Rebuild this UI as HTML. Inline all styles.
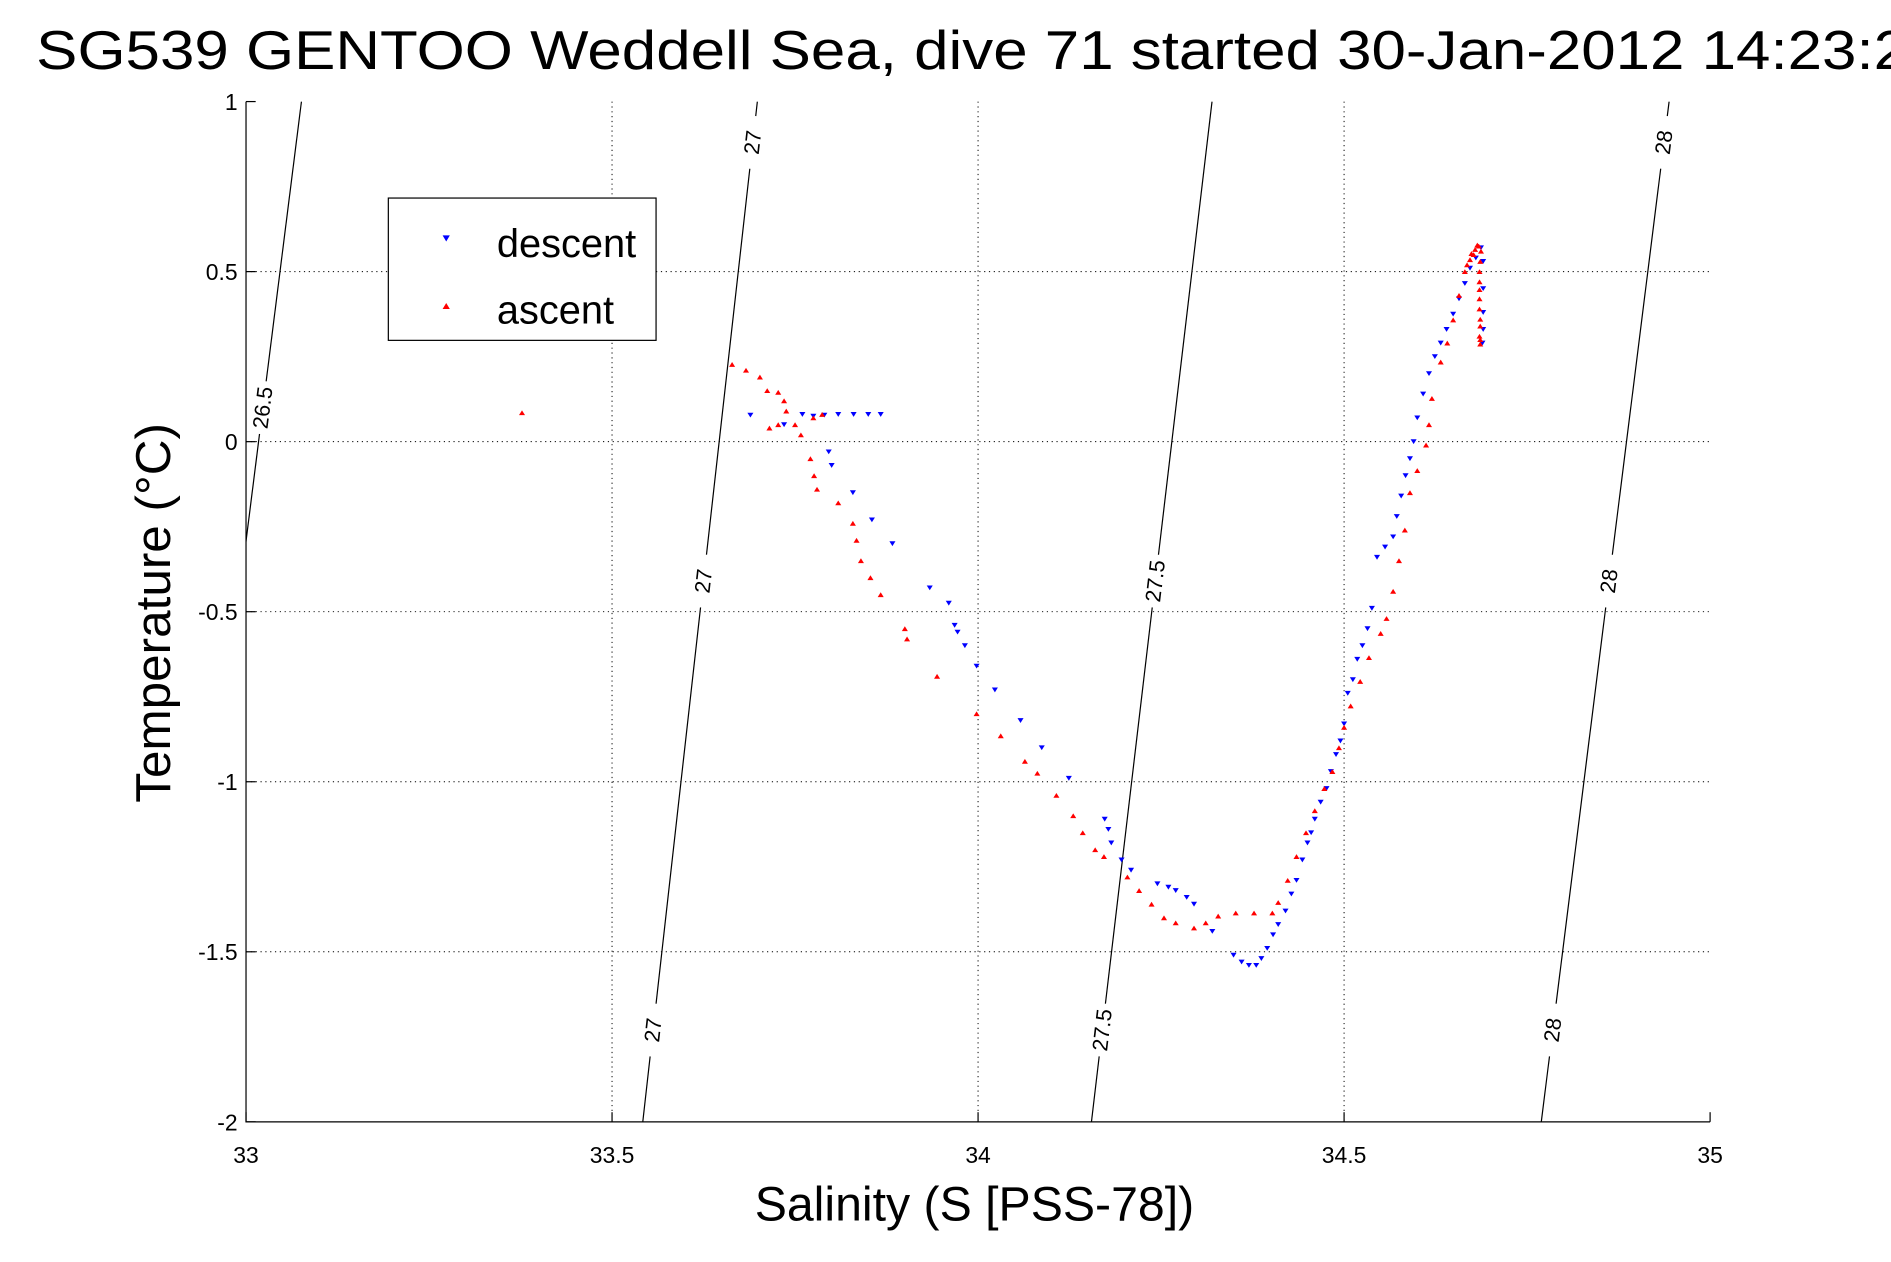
<!DOCTYPE html>
<html><head><meta charset="utf-8"><style>
html,body{margin:0;padding:0;background:#fff;overflow:hidden}
svg{display:block;font-family:"Liberation Sans",sans-serif}
</style></head><body>
<svg id="chart" width="1891" height="1262" viewBox="0 0 1568 1046" xmlns="http://www.w3.org/2000/svg">
<rect width="1568" height="1046" fill="#fff"/>
<text transform="translate(30,57) scale(1.14,1)" x="0" y="0" font-size="45" fill="#000">SG539 GENTOO Weddell Sea, dive 71 started 30-Jan-2012 14:23:24</text>
<g id="grid"></g>
<g id="iso"></g>
<g id="marks"></g>
<g id="axes"></g>
<text x="808" y="1012" font-size="40" text-anchor="middle">Salinity (S [PSS-78])</text>
<text transform="translate(141,508) rotate(-90)" font-size="41" text-anchor="middle">Temperature (°C)</text>
<g>
<rect x="322" y="164" width="222" height="118" fill="#fff" stroke="#000" stroke-width="1"/>
<polygon points="367,195 373,195 370,200" fill="#00f"/>
<text x="412" y="213" font-size="33">descent</text>
<polygon points="367,256 373,256 370,251" fill="#f00"/>
<text x="412" y="268" font-size="33">ascent</text>
</g>
</svg>
<script>
const xTicks=[33,33.5,34,34.5,35];
const yTicks=[1,0.5,0,-0.5,-1,-1.5,-2];
const xTickLabels=["33","33.5","34","34.5","35"];
const yTickLabels=["1","0.5","0","-0.5","-1","-1.5","-2"];
const descS=[33.689,33.735,33.760,33.775,33.790,33.809,33.830,33.850,33.867,33.796,33.80,33.829,33.855,33.883,33.934,33.960,33.968,33.972,33.982,33.998,34.023,34.058,34.087,34.124,34.173,34.178,34.182,34.196,34.209,34.245,34.26,34.27,34.285,34.295,34.32,34.349,34.36,34.37,34.38,34.387,34.395,34.403,34.41,34.42,34.428,34.435,34.443,34.45,34.455,34.46,34.468,34.476,34.482,34.489,34.495,34.50,34.505,34.512,34.518,34.525,34.532,34.538,34.545,34.556,34.567,34.572,34.578,34.584,34.59,34.595,34.60,34.608,34.616,34.624,34.632,34.64,34.649,34.657,34.665,34.672,34.68,34.687,34.69,34.69,34.69,34.69,34.689];
const descT=[0.078,0.05,0.08,0.075,0.078,0.08,0.08,0.08,0.08,-0.03,-0.07,-0.15,-0.23,-0.30,-0.43,-0.475,-0.54,-0.56,-0.6,-0.66,-0.73,-0.82,-0.90,-0.99,-1.11,-1.14,-1.18,-1.23,-1.26,-1.30,-1.31,-1.32,-1.34,-1.36,-1.44,-1.51,-1.53,-1.54,-1.54,-1.52,-1.49,-1.45,-1.42,-1.38,-1.33,-1.29,-1.23,-1.18,-1.15,-1.11,-1.06,-1.02,-0.97,-0.92,-0.88,-0.83,-0.74,-0.7,-0.64,-0.60,-0.55,-0.49,-0.34,-0.31,-0.28,-0.22,-0.16,-0.1,-0.05,0.0,0.07,0.14,0.2,0.25,0.29,0.33,0.375,0.42,0.465,0.51,0.54,0.57,0.53,0.45,0.38,0.33,0.29];
const ascS=[33.377,33.664,33.683,33.702,33.712,33.727,33.735,33.738,33.715,33.727,33.75,33.758,33.771,33.776,33.78,33.775,33.787,33.809,33.829,33.834,33.84,33.853,33.867,33.9,33.903,33.944,33.998,34.031,34.064,34.081,34.107,34.13,34.143,34.16,34.172,34.204,34.22,34.237,34.254,34.27,34.295,34.311,34.328,34.352,34.377,34.402,34.41,34.423,34.435,34.448,34.46,34.473,34.484,34.493,34.50,34.509,34.522,34.534,34.55,34.558,34.567,34.575,34.583,34.59,34.60,34.612,34.616,34.62,34.632,34.641,34.649,34.657,34.665,34.674,34.682,34.687,34.685,34.685,34.685,34.686,34.686,34.668,34.672,34.677,34.679,34.684,34.686,34.685,34.685,34.686,34.685,34.686];
const ascT=[0.085,0.227,0.21,0.19,0.15,0.145,0.12,0.09,0.04,0.05,0.05,0.02,-0.05,-0.1,-0.14,0.07,0.08,-0.18,-0.24,-0.29,-0.35,-0.40,-0.45,-0.55,-0.58,-0.69,-0.80,-0.865,-0.94,-0.975,-1.04,-1.10,-1.15,-1.2,-1.22,-1.28,-1.32,-1.36,-1.40,-1.415,-1.43,-1.415,-1.395,-1.386,-1.386,-1.386,-1.355,-1.29,-1.22,-1.15,-1.085,-1.02,-0.97,-0.90,-0.84,-0.777,-0.705,-0.635,-0.564,-0.52,-0.44,-0.35,-0.26,-0.15,-0.085,-0.01,0.05,0.127,0.234,0.29,0.358,0.43,0.5,0.553,0.578,0.56,0.50,0.447,0.39,0.34,0.287,0.52,0.535,0.55,0.565,0.575,0.53,0.47,0.42,0.36,0.31,0.30];
const isoLevels=["26.5","27","27.5","28"];
const isoTopS=[33.0757,33.6985,34.3196,34.9440];
const isoBotS=[32.9,33.5420,34.1549,34.7694];
const NS="http://www.w3.org/2000/svg";
const L=204,R=1418,T=84,B=930;
const xs=s=>L+(s-33)/2*(R-L);
const ys=t=>T+(1-t)/3*(B-T);
function mk(tag,attrs,parent){const e=document.createElementNS(NS,tag);for(const k in attrs)e.setAttribute(k,attrs[k]);parent.appendChild(e);return e;}
const grid=document.getElementById('grid'),axes=document.getElementById('axes'),iso=document.getElementById('iso'),marks=document.getElementById('marks');
xTicks.forEach((v,i)=>{
 const x=xs(v);
 if(i>0&&i<xTicks.length-1){const g=mk('line',{x1:x,x2:x,y1:T,y2:B,stroke:'#000','stroke-width':0.8,'stroke-dasharray':'1,3'},grid);
 
 }
 const t=mk('text',{x:x,y:B+34,'font-size':19,'text-anchor':'middle'},axes);t.textContent=xTickLabels[i];
 
 
 mk('line',{x1:x,x2:x,y1:B,y2:B-8,stroke:'#000'},axes);
});
yTicks.forEach((v,i)=>{
 const y=ys(v);
 if(i>0&&i<yTicks.length-1){const g=mk('line',{x1:L,x2:R,y1:y,y2:y,stroke:'#000','stroke-width':0.8,'stroke-dasharray':'1,3'},grid);
 
 }
 const t=mk('text',{x:L-7,y:y+7,'font-size':19,'text-anchor':'end'},axes);t.textContent=yTickLabels[i];
 
 
 mk('line',{x1:L,x2:L+8,y1:y,y2:y,stroke:'#000'},axes);
});
const ax=mk('path',{d:`M${L},${T}V${B}H${R}`,fill:'none',stroke:'#000','stroke-width':1},axes);


const clip=mk('clipPath',{id:'pc'},document.getElementById('chart'));mk('rect',{x:L,y:T,width:R-L,height:B-T},clip);
iso.setAttribute('clip-path','url(#pc)');
isoLevels.forEach((lv,i)=>{
 const x1=xs(isoTopS[i]),x2=xs(isoBotS[i]);
 const ln=mk('line',{x1:x1,y1:T,x2:x2,y2:B,stroke:'#000','stroke-width':1},iso);
 
 
 const ang=Math.atan2(B-T,x2-x1)*180/Math.PI;
 const fr= lv==="26.5"?[0.3]:(lv==="27.5"?[0.47,0.91]:[0.04,0.47,0.91]);
 fr.forEach(f=>{
  const y=T+f*(B-T);
  const x=x1+(x2-x1)*f;
  mk('rect',{x:x-6,y:y-22,width:12,height:44,fill:'#fff',transform:`rotate(${ang-90},${x},${y})`},iso);
  const t=mk('text',{x:x,y:y+6,'font-size':18,'text-anchor':'middle',transform:`rotate(${ang-180},${x},${y})`},iso);
  t.textContent=lv;
  
  
 });
});
function tri(s,t,down,color){
 const x=xs(s),y=ys(t);
 const pts=down?`${x-2.5},${y-2} ${x+2.5},${y-2} ${x},${y+2}`:`${x-2.5},${y+2} ${x+2.5},${y+2} ${x},${y-2}`;
 return mk('polygon',{points:pts,fill:color},marks);
}
descS.forEach((s,i)=>{const p=tri(s,descT[i],true,'#00f');
 
 });
ascS.forEach((s,i)=>{const p=tri(s,ascT[i],false,'#f00');
 
 });
</script>
</body></html>
